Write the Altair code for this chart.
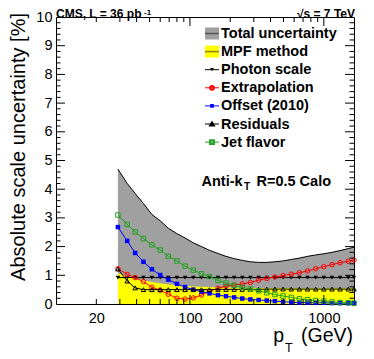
import altair as alt
import pandas as pd

# ---- data ----
pt = [29, 34, 39, 45, 52, 60, 69, 80, 92, 106, 122, 140, 162, 186, 214, 246, 283,
      326, 375, 431, 496, 571, 657, 756, 870, 1000, 1150, 1323, 1522, 1680]
total = [4.70, 4.20, 3.85, 3.50, 3.12, 2.90, 2.64, 2.45, 2.30, 2.13, 2.00, 1.87, 1.76,
         1.66, 1.58, 1.52, 1.47, 1.45, 1.45, 1.47, 1.50, 1.55, 1.60, 1.66, 1.71, 1.75,
         1.80, 1.86, 1.93, 1.98]
mpf = [1.07, 0.97, 0.90, 0.83, 0.77, 0.72, 0.68, 0.65, 0.63, 0.61, 0.60, 0.59, 0.58,
       0.58, 0.57, 0.57, 0.57, 0.56, 0.56, 0.56, 0.56, 0.56, 0.55, 0.55, 0.55, 0.55,
       0.55, 0.55, 0.55, 0.55]
photon = [0.92] * 30
extrap = [1.23, 1.03, 0.92, 0.78, 0.58, 0.48, 0.34, 0.20, 0.17, 0.21, 0.31, 0.44, 0.55,
          0.62, 0.66, 0.70, 0.75, 0.83, 0.89, 0.94, 0.99, 1.04, 1.09, 1.15, 1.23, 1.30,
          1.37, 1.44, 1.49, 1.53]
offset = [2.68, 2.20, 1.78, 1.47, 1.21, 1.01, 0.85, 0.70, 0.59, 0.50, 0.43, 0.37, 0.31,
          0.27, 0.23, 0.19, 0.16, 0.14, 0.12, 0.10, 0.08, 0.06, 0.05, 0.05, 0.04, 0.04,
          0.03, 0.03, 0.03, 0.03]
resid = [1.22, 0.80, 0.56, 0.50, 0.50, 0.50, 0.50, 0.50, 0.50, 0.50, 0.50, 0.50, 0.51,
         0.51, 0.51, 0.51, 0.51, 0.51, 0.52, 0.52, 0.52, 0.52, 0.52, 0.52, 0.52, 0.52,
         0.52, 0.52, 0.52, 0.52]
flavor = [3.10, 2.77, 2.51, 2.28, 2.06, 1.88, 1.66, 1.50, 1.32, 1.18, 1.05, 0.96, 0.82,
          0.73, 0.65, 0.58, 0.52, 0.46, 0.39, 0.33, 0.28, 0.23, 0.18, 0.15, 0.12, 0.10,
          0.07, 0.05, 0.04, 0.03]

legend_labels = ["Total uncertainty", "MPF method", "Photon scale", "Extrapolation",
                 "Offset (2010)", "Residuals", "Jet flavor"]
x_tick_labels = [20, 100, 200, 1000]
x_major_ticks = [100, 1000]
x_minor_ticks = [20, 30, 40, 50, 60, 70, 80, 90, 200, 300, 400, 500, 600, 700, 800, 900]
y_tick_labels = list(range(0, 11))
y_minor_ticks = [i / 5 for i in range(0, 51) if i % 5 != 0]

# ---- chart ----
W, H = 298, 287
FONT = "Liberation Sans"
df = pd.DataFrame({"pt": pt, "total": total, "mpf": mpf, "photon": photon,
                   "extrap": extrap, "offset": offset, "resid": resid, "flavor": flavor})
one = pd.DataFrame({"d": [0]})

xs = alt.Scale(type="log", domain=[10, 1680], nice=False)
ys = alt.Scale(domain=[0, 10], nice=False, zero=False)

xaxis = alt.Axis(values=x_tick_labels, format="d", tickSize=0, domain=False, grid=False,
                 title=None, labelFont=FONT, labelFontSize=14.5, labelColor="black",
                 labelPadding=7)
yaxis = alt.Axis(values=y_tick_labels, format="d", tickSize=0, domain=False, grid=False,
                 title=None, labelFont=FONT, labelFontSize=14.5, labelColor="black",
                 labelPadding=4)


def X(f):
    return alt.X(f, scale=xs, axis=xaxis)


def Y(f):
    return alt.Y(f, scale=ys, axis=yaxis)


base = alt.Chart(df)
layers = []
layers.append(base.mark_area(color="#a0a0a0").encode(x=X("pt:Q"), y=Y("total:Q")))
layers.append(base.mark_line(color="black", strokeWidth=1).encode(x=X("pt:Q"), y=Y("total:Q")))
layers.append(base.mark_area(color="#ffff00").encode(x=X("pt:Q"), y=Y("mpf:Q")))

series_style = [
    ("photon", "black", "triangle-down", True),
    ("extrap", "#ff0000", "circle", False),
    ("offset", "#0000ff", "square", True),
    ("resid", "black", "triangle-up", False),
    ("flavor", "#22a022", "square", False),
]
for field, col, shape, filled in series_style:
    enc = dict(x=X("pt:Q"), y=Y(f"{field}:Q"))
    layers.append(base.mark_line(color=col, strokeWidth=1).encode(**enc))
    layers.append(base.mark_point(color=col, shape=shape, filled=filled, size=20,
                                  strokeWidth=1, opacity=1).encode(**enc))


# inward ticks
def xticks(vals, ln):
    d = alt.Chart(pd.DataFrame({"pt": vals}))
    return [d.mark_rule(color="black", strokeWidth=1).encode(
                x=X("pt:Q"), y=alt.value(H), y2=alt.value(H - ln)),
            d.mark_rule(color="black", strokeWidth=1).encode(
                x=X("pt:Q"), y=alt.value(0), y2=alt.value(ln))]


def yticks(vals, ln):
    d = alt.Chart(pd.DataFrame({"total": vals}))
    return [d.mark_rule(color="black", strokeWidth=1).encode(
                y=Y("total:Q"), x=alt.value(0), x2=alt.value(ln)),
            d.mark_rule(color="black", strokeWidth=1).encode(
                y=Y("total:Q"), x=alt.value(W), x2=alt.value(W - ln))]


layers += xticks(x_major_ticks, 9) + xticks(x_minor_ticks, 5)
layers += yticks(y_tick_labels[1:-1], 9) + yticks(y_minor_ticks, 4.5)


def text(t, x, y, size=14.5, bold=True, align="left", baseline="middle", angle=0):
    kw = dict(font=FONT, fontSize=size, fontWeight="bold" if bold else "normal",
              align=align, baseline=baseline, color="black")
    if angle:
        kw["angle"] = angle
    return alt.Chart(one).mark_text(**kw).encode(
        x=alt.value(x), y=alt.value(y), text=alt.value(t))


# legend
sym_x0, sym_x1, txt_x = 149, 163, 165
for i, lab in enumerate(legend_labels):
    yc = 16.5 + 18.1 * i
    oc = alt.Chart(one)
    if i == 0:
        layers.append(oc.mark_rect(color="#a0a0a0").encode(
            x=alt.value(sym_x0), x2=alt.value(sym_x1), y=alt.value(yc - 6), y2=alt.value(yc + 6)))
        layers.append(oc.mark_rule(color="#555555", strokeWidth=1.5).encode(
            x=alt.value(sym_x0), x2=alt.value(sym_x1), y=alt.value(yc)))
    elif i == 1:
        layers.append(oc.mark_rect(color="#ffff00").encode(
            x=alt.value(sym_x0), x2=alt.value(sym_x1), y=alt.value(yc - 6), y2=alt.value(yc + 6)))
        layers.append(oc.mark_rule(color="#888800", strokeWidth=1.5).encode(
            x=alt.value(sym_x0), x2=alt.value(sym_x1), y=alt.value(yc)))
    else:
        _, col, shape, filled = series_style[i - 2]
        layers.append(oc.mark_rule(color=col, strokeWidth=1).encode(
            x=alt.value(sym_x0), x2=alt.value(sym_x1), y=alt.value(yc)))
        layers.append(oc.mark_point(color=col, shape=shape, filled=filled, size=14,
                                    opacity=1).encode(x=alt.value(156), y=alt.value(yc)))
    layers.append(text(lab, txt_x, yc + 0.5))

# annotations
layers.append(text("Anti-k", 145.5, 164.5, size=14.5))
layers.append(text("T", 188, 170, size=10))
layers.append(text("R=0.5 Calo", 200.5, 164.5, size=14.5))
layers.append(text("CMS, L = 36 pb", 0, 0.5, size=12, baseline="alphabetic"))
layers.append(text("-1", 88, -2.5, size=8, baseline="alphabetic"))
layers.append(text("\u221as = 7 TeV", 299, 0.5, size=12, align="right", baseline="alphabetic"))
layers.append(text("Absolute scale uncertainty [%]", -37, -4, size=20, bold=False,
                   align="right", angle=270))
layers.append(text("(GeV)", 297, 325, size=19.5, bold=False, align="right", baseline="alphabetic"))
layers.append(text("p", 228, 325, size=19.5, bold=False, align="right", baseline="alphabetic"))
layers.append(text("T", 229, 335, size=12.5, bold=False, baseline="alphabetic"))

chart = alt.layer(*layers).properties(
    width=W, height=H,
    autosize=alt.AutoSizeParams(type="none"),
    padding={"left": 48, "top": 9, "right": 10, "bottom": 54},
).configure_view(stroke="black", strokeWidth=1)

chart.save("out.html", embed_options={"renderer": "svg", "actions": False})
